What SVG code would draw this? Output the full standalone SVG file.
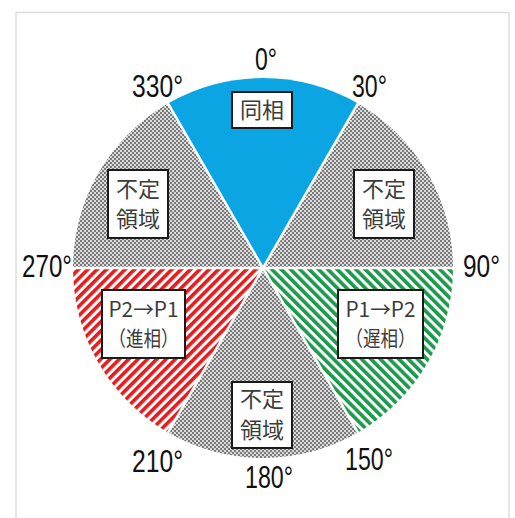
<svg xmlns="http://www.w3.org/2000/svg" width="515" height="518" viewBox="0 0 515 518">
  <style>
    .deg { font-family: "Liberation Sans", "DejaVu Sans", sans-serif; font-size: 31px; fill: #111; }
    .lbl { font-family: "Noto Sans CJK JP", "Noto Sans", sans-serif; font-size: 22px; fill: #3c3c3c; text-anchor: middle; }
    .sm { font-size: 21px; }
    .box { fill: #ffffff; stroke: #1a1a1a; stroke-width: 2; }
    .sep { stroke: #ffffff; stroke-width: 2.5; }
  </style>
  <defs>
    <pattern id="checker" width="4" height="4" patternUnits="userSpaceOnUse">
      <rect width="4" height="4" fill="#dadada"/>
      <rect x="0" y="0" width="2" height="2" fill="#7a7a7a"/>
      <rect x="2" y="2" width="2" height="2" fill="#7a7a7a"/>
    </pattern>
    <pattern id="redStripes" width="6.6" height="10" patternUnits="userSpaceOnUse" patternTransform="rotate(45)">
      <rect width="6.6" height="10" fill="#ffffff"/>
      <rect width="3.6" height="10" fill="#e41e1e"/>
    </pattern>
    <pattern id="greenStripes" width="6.6" height="10" patternUnits="userSpaceOnUse" patternTransform="rotate(-45)">
      <rect width="6.6" height="10" fill="#ffffff"/>
      <rect width="3.6" height="10" fill="#1a9a4a"/>
    </pattern>
  </defs>

  <rect x="0" y="0" width="515" height="518" fill="#ffffff"/>
  <rect x="16" y="12.5" width="493" height="520" fill="none" stroke="#dddddd" stroke-width="1.5"/>

  <g id="sectors">
    <path id="sector-inphase" d="M263,268 L168,103.46 A190,190 0 0 1 358,103.46 Z" fill="#0ba5e4"/>
    <path id="sector-undef-right" d="M263,268 L358,103.46 A190,190 0 0 1 453,268 Z" fill="url(#checker)"/>
    <path id="sector-lag" d="M263,268 L453,268 A190,190 0 0 1 358,432.54 Z" fill="url(#greenStripes)"/>
    <path id="sector-undef-bottom" d="M263,268 L358,432.54 A190,190 0 0 1 168,432.54 Z" fill="url(#checker)"/>
    <path id="sector-lead" d="M263,268 L168,432.54 A190,190 0 0 1 73,268 Z" fill="url(#redStripes)"/>
    <path id="sector-undef-left" d="M263,268 L73,268 A190,190 0 0 1 168,103.46 Z" fill="url(#checker)"/>
  </g>

  <g id="separators">
    <line class="sep" x1="263" y1="268" x2="358" y2="103.46"/>
    <line class="sep" x1="263" y1="268" x2="455" y2="268"/>
    <line class="sep" x1="263" y1="268" x2="358" y2="432.54"/>
    <line class="sep" x1="263" y1="268" x2="168" y2="432.54"/>
    <line class="sep" x1="263" y1="268" x2="71" y2="268"/>
    <line class="sep" x1="263" y1="268" x2="168" y2="103.46"/>
  </g>

  <g id="angle-labels">
    <text class="deg" x="255" y="70" textLength="22" lengthAdjust="spacingAndGlyphs">0°</text>
    <text class="deg" x="132" y="97" textLength="51" lengthAdjust="spacingAndGlyphs">330°</text>
    <text class="deg" x="352" y="97" textLength="35" lengthAdjust="spacingAndGlyphs">30°</text>
    <text class="deg" x="22" y="277" textLength="50" lengthAdjust="spacingAndGlyphs">270°</text>
    <text class="deg" x="463" y="277" textLength="37" lengthAdjust="spacingAndGlyphs">90°</text>
    <text class="deg" x="132" y="472" textLength="51" lengthAdjust="spacingAndGlyphs">210°</text>
    <text class="deg" x="345" y="470" textLength="48" lengthAdjust="spacingAndGlyphs">150°</text>
    <text class="deg" x="245" y="488" textLength="48" lengthAdjust="spacingAndGlyphs">180°</text>
  </g>

  <g id="node-inphase">
    <rect class="box" x="232" y="92" width="60" height="36"/>
    <text class="lbl" x="262" y="118">同相</text>
  </g>
  <g id="node-undef-left">
    <rect class="box" x="108" y="170" width="60" height="68"/>
    <text class="lbl" x="138" y="197">不定</text>
    <text class="lbl" x="138" y="227">領域</text>
  </g>
  <g id="node-undef-right">
    <rect class="box" x="354" y="170" width="60" height="68"/>
    <text class="lbl" x="384" y="197">不定</text>
    <text class="lbl" x="384" y="227">領域</text>
  </g>
  <g id="node-lead">
    <rect class="box" x="102" y="290" width="83" height="68"/>
    <text class="lbl sm" x="143.5" y="317" textLength="70" lengthAdjust="spacingAndGlyphs">P2→P1</text>
    <text class="lbl sm" x="143.5" y="346" textLength="70" lengthAdjust="spacingAndGlyphs">（進相）</text>
  </g>
  <g id="node-lag">
    <rect class="box" x="338" y="290" width="85" height="68"/>
    <text class="lbl sm" x="380.5" y="317" textLength="70" lengthAdjust="spacingAndGlyphs">P1→P2</text>
    <text class="lbl sm" x="380.5" y="346" textLength="70" lengthAdjust="spacingAndGlyphs">（遅相）</text>
  </g>
  <g id="node-undef-bottom">
    <rect class="box" x="232" y="382" width="60" height="66"/>
    <text class="lbl" x="262" y="407">不定</text>
    <text class="lbl" x="262" y="438">領域</text>
  </g>
</svg>
